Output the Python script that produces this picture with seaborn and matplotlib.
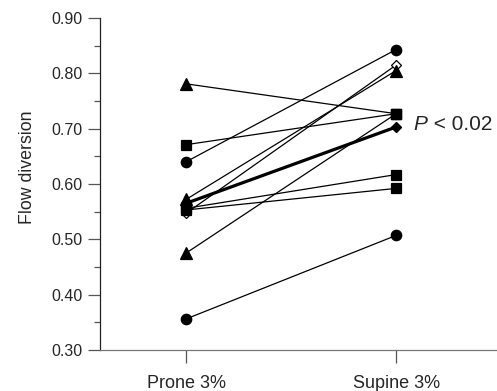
import matplotlib
matplotlib.use("Agg")
import matplotlib.pyplot as plt
import seaborn as sns
import pandas as pd
from matplotlib.ticker import MultipleLocator

sns.set_style("ticks")
plt.rcParams['font.family'] = ['Liberation Sans', 'DejaVu Sans']

categories = ["Prone 3%", "Supine 3%"]
prone = [0.781, 0.671, 0.640, 0.572, 0.547, 0.556, 0.553, 0.475, 0.356]
supine = [0.727, 0.727, 0.843, 0.805, 0.815, 0.617, 0.592, 0.727, 0.507]
prone_markers = ['^', 's', 'o', '^', 'D', 's', 's', '^', 'o']
supine_markers = ['s', 's', 'o', '^', 'D', 's', 's', 's', 'o']
open_marker = [False, False, False, False, True, False, False, False, False]
mean_values = [0.565, 0.703]
p_text = "P"
p_rest = " < 0.02"

rows = []
for i in range(len(prone)):
    rows.append(dict(subject=i, pos=0, value=prone[i], marker=prone_markers[i], open=open_marker[i]))
    rows.append(dict(subject=i, pos=1, value=supine[i], marker=supine_markers[i], open=open_marker[i]))
df = pd.DataFrame(rows)
mean_df = pd.DataFrame(dict(pos=[0, 1], value=mean_values))

fig = plt.figure(figsize=(4.97, 3.91), dpi=100)
ax = fig.add_axes([0.201, 0.105, 0.799, 0.849])

sns.lineplot(data=df, x='pos', y='value', units='subject', estimator=None,
             color='black', linewidth=0.9, ax=ax, legend=False)
sns.lineplot(data=mean_df, x='pos', y='value', color='black', linewidth=2.3, ax=ax, legend=False)

sizes = {'o': 7.5, 's': 6.5, '^': 8, 'D': 5.5}
order = [df[df.open], df[(~df.open) & (df.marker != 's')], df[(~df.open) & (df.marker == 's')]]
for part in order:
    for (m, is_open), g in part.groupby(['marker', 'open']):
        ax.plot(g['pos'], g['value'], linestyle='none', marker=m, markersize=sizes[m],
                markerfacecolor='white' if is_open else 'black', markeredgecolor='black',
                markeredgewidth=0.9, zorder=3)
ax.plot(mean_df['pos'], mean_df['value'], linestyle='none', marker='D', markersize=5.5,
        color='black', zorder=4)

ax.text(1.08, 0.707, p_text, fontsize=15, style='italic', va='center', ha='left')
ax.text(1.08 + 0.07, 0.707, p_rest, fontsize=15, va='center', ha='left')

ax.set_xlim(-0.41, 1.48)
ax.set_ylim(0.30, 0.90)
ax.set_xticks([0, 1])
ax.set_xticklabels(categories, fontsize=13)
ax.yaxis.set_major_locator(MultipleLocator(0.10))
ax.yaxis.set_minor_locator(MultipleLocator(0.05))
ax.set_yticklabels([f"{v:.2f}" for v in ax.get_yticks()], fontsize=11.5)
ax.set_ylim(0.30, 0.90)
ax.set_xlabel("")
ax.set_ylabel("Flow diversion", fontsize=12.8)
ax.yaxis.set_label_coords(-0.16, 0.55)

for s in ['top', 'right']:
    ax.spines[s].set_visible(False)
ax.spines['left'].set_color('#222222')
ax.spines['bottom'].set_color('#777777')
ax.spines['left'].set_linewidth(0.9)
ax.spines['bottom'].set_linewidth(0.9)
ax.tick_params(axis='y', which='major', length=9, width=0.9, color='#555555', pad=3.5)
ax.tick_params(axis='y', which='minor', length=4, width=0.9, color='#555555')
ax.tick_params(axis='x', which='major', length=9, width=0.9, color='#555555', pad=9)

fig.savefig("out.png", dpi=100)
